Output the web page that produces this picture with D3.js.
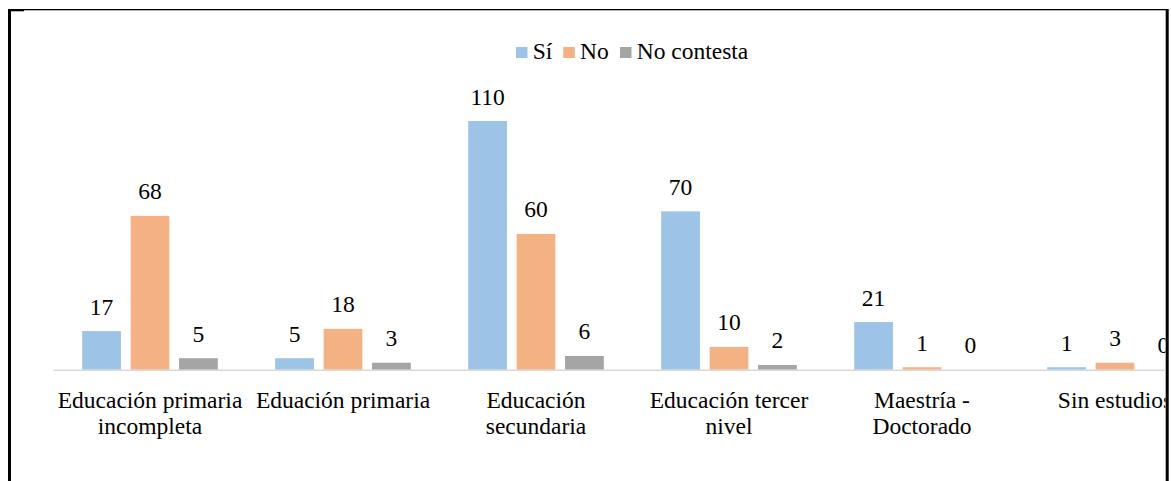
<!DOCTYPE html>
<html><head><meta charset="utf-8">
<script src="https://cdn.jsdelivr.net/npm/d3@7"></script>
<style>html,body{margin:0;padding:0;background:#fff;}svg{display:block;}</style>
</head><body>
<svg id="chart" width="1171" height="481"></svg>
<script>
const categories = [["Educación primaria","incompleta"],["Eduación primaria"],["Educación","secundaria"],["Educación tercer","nivel"],["Maestría -","Doctorado"],["Sin estudios"]];
const seriesNames = ["Sí","No","No contesta"];
const si = [17,5,110,70,21,1];
const no = [68,18,60,10,1,3];
const noContesta = [5,3,6,2,0,0];
const colors = ["#9DC3E6","#F4B183","#A5A5A5"];

const svg = d3.select("#chart");
const font = "Liberation Serif";
const fs = "23.5px";

const x0 = d3.scaleBand().domain(d3.range(categories.length)).range([53.5, 53.5 + 6*193]).paddingInner(0).paddingOuter(0);
const x1 = d3.scaleBand().domain(seriesNames).range([28.7, 193-28.7]).paddingInner(0.2);
const y = d3.scaleLinear().domain([0,110]).range([369.5, 121]);

// frame
svg.append("rect").attr("x",8).attr("y",9).attr("width",1160).attr("height",1.3).attr("fill","#000");
svg.append("rect").attr("x",8).attr("y",9).attr("width",3).attr("height",472).attr("fill","#000");
svg.append("rect").attr("x",8).attr("y",9).attr("width",16).attr("height",2.3).attr("fill","#000");
svg.append("rect").attr("x",1165.7).attr("y",9).attr("width",3).attr("height",472).attr("fill","#000");

svg.append("defs").append("clipPath").attr("id","clip").append("rect").attr("x",11).attr("y",10).attr("width",1154.5).attr("height",471);
const g = svg.append("g").attr("clip-path","url(#clip)");

const data = categories.map((c,i)=>({i, vals:[si[i],no[i],noContesta[i]]}));

// baseline
g.append("line").attr("x1",53.5).attr("x2",53.5+6*193).attr("y1",370.3).attr("y2",370.3).attr("stroke","#D9D9D9").attr("stroke-width",1.6);

const grp = g.selectAll("g.cat").data(data).join("g").attr("class","cat").attr("transform",d=>`translate(${x0(d.i)},0)`);
grp.selectAll("rect").data(d=>d.vals.map((v,k)=>({v,k}))).join("rect")
  .attr("x",d=>x1(seriesNames[d.k])).attr("width",x1.bandwidth())
  .attr("y",d=>y(d.v)).attr("height",d=>y(0)-y(d.v)).attr("fill",d=>colors[d.k]);
grp.selectAll("text.val").data(d=>d.vals.map((v,k)=>({v,k}))).join("text").attr("class","val")
  .attr("x",d=>x1(seriesNames[d.k])+x1.bandwidth()/2).attr("y",d=>y(d.v)-16.5)
  .attr("text-anchor","middle").style("font-family",font).style("font-size",fs).attr("fill","#000").text(d=>d.v);

// category labels
grp.append("text").attr("text-anchor","middle").style("font-family",font).style("font-size",fs).attr("fill","#000")
  .selectAll("tspan").data(d=>categories[d.i]).join("tspan")
  .attr("x",96.5).attr("y",(d,j)=>407.5 + j*26).text(d=>d);

// legend (layout offsets)
const legendX = [516, 563.3, 620];
const legend = svg.append("g");
seriesNames.forEach((s,k)=>{
  legend.append("rect").attr("x",legendX[k]).attr("y",47).attr("width",11.5).attr("height",11).attr("fill",colors[k]);
  legend.append("text").attr("x",legendX[k]+16.7).attr("y",58.5).style("font-family",font).style("font-size",fs).attr("fill","#000").text(s);
});
</script>
</body></html>
